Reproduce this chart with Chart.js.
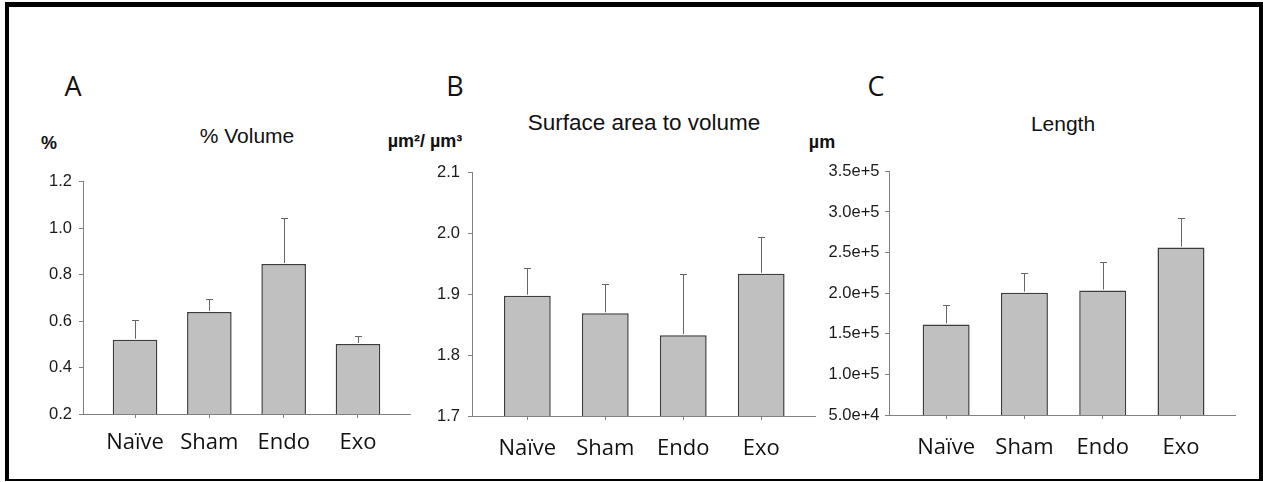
<!DOCTYPE html>
<html>
<head>
<meta charset="utf-8">
<script src="https://cdn.jsdelivr.net/npm/chart.js@4.4.1/dist/chart.umd.min.js"></script>
<style>
  html, body { margin: 0; padding: 0; background: #fff; }
  body { width: 1263px; height: 482px; position: relative; overflow: hidden; }
  .frame {
    position: absolute; left: 5px; top: 2px; width: 1258px; height: 479px;
    box-sizing: border-box; border-style: solid; border-color: #000;
    border-width: 5px 4px 2px 4px;
  }
  .lbl { position: absolute; transform: translate(-50%, -50%); white-space: nowrap; color: #111; line-height: 1; }
  .letter { font-family: 'Open Sans', sans-serif; font-size: 27px; }
  .title { font-family: 'Liberation Sans', Arial, sans-serif; font-size: 21px; }
  .unit { font-family: 'Liberation Sans', Arial, sans-serif; font-size: 18px; font-weight: bold; }
  canvas { position: absolute; }
</style>
</head>
<body>
<div class="frame"></div>

<div class="lbl letter" style="left:73px; top:85px;">A</div>
<div class="lbl letter" style="left:455px; top:85px;">B</div>
<div class="lbl letter" style="left:876px; top:85px;">C</div>

<div class="lbl title" style="left:247px; top:135px;">% Volume</div>
<div class="lbl title" style="left:644px; top:123px; font-size:22.5px;">Surface area to volume</div>
<div class="lbl title" style="left:1063px; top:123px;">Length</div>

<div class="lbl unit" style="left:49px; top:143px;">%</div>
<div class="lbl unit" style="left:425px; top:141px;">µm²/ µm³</div>
<div class="lbl unit" style="left:822px; top:142px;">µm</div>

<canvas id="chartA" style="left:13px; top:165px;" width="401" height="309"></canvas>
<canvas id="chartB" style="left:412px; top:155px;" width="411" height="321"></canvas>
<canvas id="chartC" style="left:819px; top:156px;" width="424" height="319"></canvas>

<script>
// categorías y valores
const categories = ['Naïve', 'Sham', 'Endo', 'Exo'];

const volumePct        = [0.52, 0.64, 0.846, 0.502];
const volumePctErr     = [0.087, 0.055, 0.199, 0.034];
const volumeTicks      = [0.2, 0.4, 0.6, 0.8, 1.0, 1.2];

const surfaceToVolume    = [1.898, 1.869, 1.833, 1.934];
const surfaceToVolumeErr = [0.046, 0.049, 0.101, 0.06];
const surfaceTicks       = [1.7, 1.8, 1.9, 2.0, 2.1];

const lengthUm    = [161500, 200700, 203200, 256200];
const lengthUmErr = [24500, 23700, 35800, 35800];
const lengthTicks = [5e4, 1e5, 1.5e5, 2e5, 2.5e5, 3e5, 3.5e5];

const AXIS_COLOR = '#808080';
const BAR_FILL   = '#c0c0c0';
const BAR_EDGE   = '#3c3c3c';
const ERR_COLOR  = '#666666';

// barras de error hacia arriba, dibujadas con las escalas del gráfico
const errorBarPlugin = {
  id: 'errorBars',
  afterDatasetsDraw(chart, args, opts) {
    const { ctx, scales: { x, y } } = chart;
    const data = chart.data.datasets[0].data;
    ctx.save();
    ctx.strokeStyle = opts.color;
    ctx.lineWidth = 1;
    data.forEach((pt, i) => {
      const px = Math.round(x.getPixelForValue(pt.x)) + 0.5;
      const yBar = y.getPixelForValue(pt.y);
      const yTop = Math.round(y.getPixelForValue(pt.y + opts.errors[i])) + 0.5;
      ctx.beginPath();
      ctx.moveTo(px, yBar - 1);
      ctx.lineTo(px, yTop);
      ctx.moveTo(px - 3.5, yTop);
      ctx.lineTo(px + 3.5, yTop);
      ctx.stroke();
    });
    ctx.restore();
  },
};

function buildPanel(canvasId, values, errors, yTicks, cfg) {
  const ctx = document.getElementById(canvasId).getContext('2d');
  return new Chart(ctx, {
    type: 'bar',
    data: {
      datasets: [{
        data: categories.map((c, i) => ({ x: i + 1, y: values[i] })),
        backgroundColor: BAR_FILL,
        borderColor: BAR_EDGE,
        borderWidth: 1.5,
        borderSkipped: 'bottom',
        categoryPercentage: 1,
        barPercentage: 0.6,
      }],
    },
    options: {
      responsive: false,
      animation: false,
      events: [],
      layout: { padding: { top: 15, right: cfg.padRight, left: 0, bottom: 0 } },
      plugins: {
        legend: { display: false },
        tooltip: { enabled: false },
        errorBars: { errors, color: ERR_COLOR },
      },
      scales: {
        x: {
          type: 'linear',
          min: cfg.xMin,
          max: cfg.xMax,
          offset: false,
          afterBuildTicks: s => { s.ticks = categories.map((c, i) => ({ value: i + 1 })); },
          afterFit: s => { s.height = 60; },
          ticks: {
            autoSkip: false,
            maxRotation: 0,
            padding: cfg.xLabelPad,
            color: '#111',
            font: { family: "'Open Sans', sans-serif", size: 22 },
            callback: v => categories[v - 1],
          },
          grid: { display: true, offset: false, drawOnChartArea: false, drawTicks: true, tickLength: 4, color: AXIS_COLOR },
          border: { display: true, color: AXIS_COLOR, width: 1 },
        },
        y: {
          min: yTicks[0],
          max: yTicks[yTicks.length - 1],
          afterBuildTicks: s => { s.ticks = yTicks.map(v => ({ value: v })); },
          afterFit: s => { s.width = cfg.yWidth; },
          ticks: {
            padding: cfg.yLabelPad,
            color: '#1a1a1a',
            font: { family: "'Liberation Sans', Arial, sans-serif", size: 16.5 },
            callback: cfg.format,
          },
          grid: { display: true, drawOnChartArea: false, drawTicks: true, tickLength: 4, color: AXIS_COLOR },
          border: { display: true, color: AXIS_COLOR, width: 1 },
        },
      },
    },
    plugins: [errorBarPlugin],
  });
}

buildPanel('chartA', volumePct, volumePctErr, volumeTicks, {
  xMin: 0.30, xMax: 4.70, yWidth: 70, padRight: 4, xLabelPad: 11.5, yLabelPad: 7,
  format: v => v.toFixed(1),
});

buildPanel('chartB', surfaceToVolume, surfaceToVolumeErr, surfaceTicks, {
  xMin: 0.29, xMax: 4.69, yWidth: 60, padRight: 8, xLabelPad: 16, yLabelPad: 8,
  format: v => v.toFixed(1),
});

buildPanel('chartC', lengthUm, lengthUmErr, lengthTicks, {
  xMin: 0.27, xMax: 4.69, yWidth: 70, padRight: 8, xLabelPad: 16, yLabelPad: 5.5,
  format: v => v.toExponential(1),
});
</script>
</body>
</html>
